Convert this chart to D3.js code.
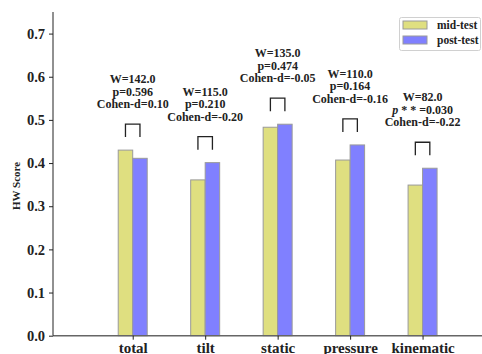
<!DOCTYPE html>
<html>
<head>
<meta charset="utf-8">
<script src="https://cdn.jsdelivr.net/npm/d3@7"></script>
<style>
  html, body { margin: 0; padding: 0; background: #fff; }
  svg { display: block; }
  svg text { font-family: "Liberation Serif", "Times New Roman", Times, serif; font-weight: bold; fill: #222; }
</style>
</head>
<body>
<div id="chart"></div>
<script>
// ---- data ----
const categories = ["total", "tilt", "static", "pressure", "kinematic"];
const midTest  = [0.430, 0.361, 0.483, 0.407, 0.349];
const postTest = [0.411, 0.401, 0.490, 0.442, 0.388];
const statW    = ["142.0", "115.0", "135.0", "110.0", "82.0"];
const statP    = ["0.596", "0.210", "0.474", "0.164", "0.030"];
const statSig  = [false, false, false, false, true];
const cohenD   = ["0.10", "-0.20", "-0.05", "-0.16", "-0.22"];
const yTicks   = [0.0, 0.1, 0.2, 0.3, 0.4, 0.5, 0.6, 0.7];
const seriesNames = ["mid-test", "post-test"];
const seriesColors = ["#dfdf80", "#8080ff"];

// ---- layout ----
const width = 482, height = 354;
const svg = d3.select("#chart").append("svg")
  .attr("width", width)
  .attr("height", height);

const x = d3.scaleLinear().domain([-1.1, 4.82]).range([53, 482]);
const y = d3.scaleLinear().domain([0, 0.75]).range([335.7, 12]);
const barW = x(0.2) - x(0);

// ---- bars ----
const series = [midTest, postTest];
series.forEach((vals, s) => {
  svg.append("g").selectAll("rect")
    .data(vals)
    .enter()
    .append("rect")
    .attr("x", (d, i) => s === 0 ? x(i) - barW : x(i))
    .attr("y", d => y(d))
    .attr("width", barW)
    .attr("height", d => y(0) - y(d))
    .attr("fill", seriesColors[s])
    .attr("stroke", "#9a9a9a")
    .attr("stroke-width", 1);
});

// ---- axes ----
svg.append("line")
  .attr("x1", x.range()[0]).attr("x2", x.range()[1])
  .attr("y1", y(0)).attr("y2", y(0))
  .attr("stroke", "#666").attr("stroke-width", 1.4);

svg.append("line")
  .attr("x1", x.range()[0]).attr("x2", x.range()[0])
  .attr("y1", y.range()[1]).attr("y2", y(0))
  .attr("stroke", "#222").attr("stroke-width", 1);

const yAxis = svg.append("g")
  .attr("transform", `translate(${x.range()[0]},0)`)
  .call(d3.axisLeft(y).tickValues(yTicks).tickFormat(d3.format(".1f")).tickSize(4).tickPadding(4));
yAxis.attr("font-family", null);
yAxis.select(".domain").remove();
yAxis.selectAll("line").attr("stroke", "#222");
yAxis.selectAll("text")
  .attr("font-size", 14.5)
  .attr("fill", "#222");

const xAxis = svg.append("g")
  .attr("transform", `translate(0,${y(0)})`)
  .call(d3.axisBottom(x).tickValues(d3.range(categories.length))
    .tickFormat(i => categories[i]).tickSize(4).tickPadding(3));
xAxis.attr("font-family", null);
xAxis.select(".domain").remove();
xAxis.selectAll("line").attr("stroke", "#222");
xAxis.selectAll("text")
  .attr("font-size", 15)
  .attr("fill", "#222");

svg.append("text")
  .attr("transform", `translate(20,186) rotate(-90)`)
  .attr("text-anchor", "middle")
  .attr("font-size", 11)
  .text("HW Score");

// ---- brackets + stats ----
categories.forEach((c, i) => {
  const top = Math.max(midTest[i], postTest[i]);
  const yb = y(top) - 13;
  const yt = y(top) - 26;
  const x0 = x(i) - barW / 2, x1 = x(i) + barW / 2;
  svg.append("path")
    .attr("d", `M${x0},${yb}V${yt}H${x1}V${yb}`)
    .attr("fill", "none")
    .attr("stroke", "#222")
    .attr("stroke-width", 1.3);

  const t = svg.append("text")
    .attr("text-anchor", "middle")
    .attr("font-size", 12);
  const base = yt - 16;
  t.append("tspan").attr("x", x(i)).attr("y", base - 25).text("W=" + statW[i]);
  const p = t.append("tspan").attr("x", x(i)).attr("y", base - 12.5);
  if (statSig[i]) {
    p.append("tspan").attr("font-style", "italic").text("p");
    p.append("tspan").text(" * * =" + statP[i]);
  } else {
    p.text("p=" + statP[i]);
  }
  t.append("tspan").attr("x", x(i)).attr("y", base).text("Cohen-d=" + cohenD[i]);
});

// ---- legend ----
const lg = svg.append("g");
lg.append("rect")
  .attr("x", 399.5).attr("y", 17.5)
  .attr("width", 81).attr("height", 33)
  .attr("rx", 2)
  .attr("fill", "#fff")
  .attr("stroke", "#d0d0d0");
seriesNames.forEach((name, s) => {
  lg.append("rect")
    .attr("x", 403).attr("y", 21 + s * 15)
    .attr("width", 24).attr("height", 8)
    .attr("fill", seriesColors[s])
    .attr("stroke", "#9a9a9a");
  lg.append("text")
    .attr("x", 437).attr("y", 29 + s * 15)
    .attr("font-size", 11.5)
    .text(name);
});
</script>
</body>
</html>
